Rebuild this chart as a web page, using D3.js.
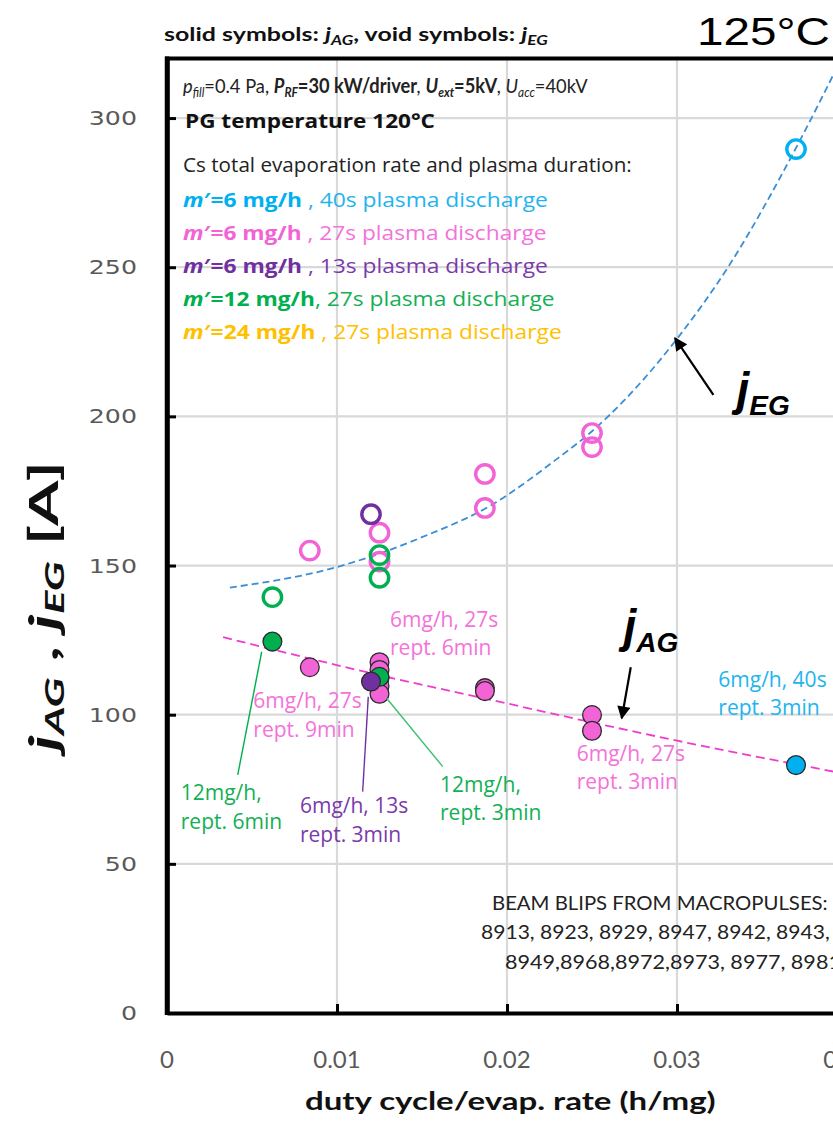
<!DOCTYPE html>
<html><head><meta charset="utf-8">
<script src="https://cdn.jsdelivr.net/npm/d3@7"></script>
<style>body{margin:0;background:#fff}svg{display:block}</style>
</head><body>
<svg id="c" width="833" height="1122"></svg>
<script>
// ---------- data ----------
const xTicks = [0, 0.01, 0.02, 0.03, 0.04];
const xTickLabels = ["0", "0.01", "0.02", "0.03", "0.04"];
const yTicks = [0, 50, 100, 150, 200, 250, 300];
const yTickLabels = ["0", "50", "100", "150", "200", "250", "300"];

// m'=6 mg/h, 27 s (pink)
const pinkEgX = [0.0084, 0.0125, 0.0125, 0.0187, 0.0187, 0.025, 0.025];
const pinkEg  = [155.0, 161.0, 151.3, 180.7, 169.3, 194.4, 189.7];
const pinkAgX = [0.0084, 0.0125, 0.0125, 0.0125, 0.0125, 0.0125, 0.0187, 0.0187, 0.025, 0.025];
const pinkAg  = [115.9, 117.6, 115.0, 112.3, 109.6, 107.0, 108.9, 107.9, 99.9, 94.6];
// m'=12 mg/h, 27 s (green)
const greenEgX = [0.0062, 0.0125, 0.0125];
const greenEg  = [139.4, 153.5, 145.9];
const greenAgX = [0.0062, 0.0125];
const greenAg  = [124.5, 112.7];
// m'=6 mg/h, 13 s (purple)
const purpleEgX = [0.012];
const purpleEg  = [167.2];
const purpleAgX = [0.012];
const purpleAg  = [111.1];
// m'=6 mg/h, 40 s (cyan)
const cyanEgX = [0.037];
const cyanEg  = [289.6];
const cyanAgX = [0.037];
const cyanAg  = [83.1];

// trend lines
const egTrendX = [0.0037, 0.0100, 0.0125, 0.0150, 0.0190, 0.0230, 0.0250, 0.0270, 0.0300, 0.0330, 0.0370, 0.0395];
const egTrendY = [142.6, 149.5, 154.0, 159.5, 170.0, 186.0, 195.0, 206.0, 226.0, 250.0, 290.0, 318.0];
const agTrendX = [0.0033, 0.0133, 0.0192, 0.0231, 0.0300, 0.0395];
const agTrendY = [126.0, 112.2, 104.8, 99.8, 91.3, 80.6];

const legendBold = ["=6 mg/h", "=6 mg/h", "=6 mg/h", "=12 mg/h", "=24 mg/h"];
const legendRest = [" , 40s plasma discharge", " , 27s plasma discharge", " , 13s plasma discharge", ", 27s plasma discharge", " , 27s plasma discharge"];
const beamLines = ["BEAM BLIPS FROM MACROPULSES:", "8913, 8923, 8929, 8947, 8942, 8943,", "8949,8968,8972,8973, 8977, 8981"];

// ---------- style ----------
const C = {pink:"#f263d6", green:"#00b050", purple:"#7030a0", cyan:"#00b0f0", gold:"#ffc000"};
const T = {pink:"#f472da", green:"#13b055", purple:"#7b3aab", cyan:"#22b4ee", gold:"#ffc000"};
const legendColors = [C.cyan, C.pink, C.purple, C.green, C.gold];
const legendTextColors = [T.cyan, T.pink, T.purple, T.green, T.gold];
const CAL = "Lato, 'Open Sans', sans-serif";
const SEG = "'Open Sans', 'Noto Sans', sans-serif";
const ARIAL = "'Liberation Sans', Arial, sans-serif";

const svg = d3.select("#c");
const x = d3.scaleLinear().domain([0, 0.04]).range([167, 847]);
const y = d3.scaleLinear().domain([0, 320]).range([1013, 58.4]);

function fit(sel, target){
  const w = sel.node().getComputedTextLength();
  return w > 0 ? target / w : 1;
}
function place(sel, px, py, target){
  sel.attr("x", 0).attr("y", 0);
  const k = target ? fit(sel, target) : 1;
  sel.attr("transform", `translate(${px},${py}) scale(${k},1)`);
  return sel;
}

// ---------- grid ----------
const grid = svg.append("g");
grid.selectAll("line.v").data(xTicks.filter(d => d > 0)).join("line")
  .attr("x1", d => x(d)).attr("x2", d => x(d)).attr("y1", y(320)).attr("y2", y(0))
  .attr("stroke", "#d9d9d9").attr("stroke-width", 2.2);
grid.selectAll("line.h").data(yTicks.filter(d => d > 0)).join("line")
  .attr("x1", x(0)).attr("x2", x(0.042)).attr("y1", d => y(d)).attr("y2", d => y(d))
  .attr("stroke", "#d9d9d9").attr("stroke-width", 2.2);

// ---------- axes ----------
const ax = svg.append("g").attr("transform", `translate(0,${y(0)})`)
  .call(d3.axisBottom(x).tickValues(xTicks).tickSize(-9).tickSizeOuter(0).tickFormat(""));
ax.select(".domain").attr("stroke", "#000").attr("stroke-width", 4);
ax.selectAll(".tick line").attr("stroke", "#000").attr("stroke-width", 3);
const ay = svg.append("g").attr("transform", `translate(${x(0)},0)`)
  .call(d3.axisLeft(y).tickValues(yTicks).tickSize(-9).tickSizeOuter(0).tickFormat(""));
ay.select(".domain").attr("stroke", "#000").attr("stroke-width", 4.5);
ay.selectAll(".tick line").attr("stroke", "#000").attr("stroke-width", 3);
svg.append("line").attr("x1", x(0) - 2).attr("x2", x(0.045)).attr("y1", y(320)).attr("y2", y(320))
  .attr("stroke", "#000").attr("stroke-width", 4);
svg.append("line").attr("x1", x(0)).attr("x2", x(0)).attr("y1", y(320) - 2).attr("y2", y(0) + 2)
  .attr("stroke", "#000").attr("stroke-width", 4.5);

// tick labels
yTicks.forEach((t, i) => {
  const s = svg.append("text").text(yTickLabels[i]).attr("font-family", "'DejaVu Sans', Verdana, sans-serif")
    .attr("font-size", 19).attr("fill", "#595959").attr("text-anchor", "end");
  s.attr("x", 0).attr("y", 0).attr("transform", `translate(137,${y(t) + 7}) scale(1.33,1)`);
});
xTicks.forEach((t, i) => {
  svg.append("text").text(xTickLabels[i]).attr("x", x(t)).attr("y", 1068)
    .attr("font-family", CAL).attr("font-size", 24).attr("fill", "#595959").attr("text-anchor", "middle");
});

// axis titles
const xt = svg.append("text").text("duty cycle/evap. rate (h/mg)").attr("font-family", CAL)
  .attr("font-weight", "bold").attr("font-size", 25).attr("fill", "#111");
place(xt, 305, 1110, 411);

const yt = svg.append("text").attr("font-family", CAL).attr("font-weight", "bold").attr("font-size", 40).attr("fill", "#111");
yt.append("tspan").text("j").attr("font-style", "italic");
yt.append("tspan").text("AG").attr("font-style", "italic").attr("font-size", 27).attr("dy", 6);
yt.append("tspan").text(" , ").attr("dy", -6);
yt.append("tspan").text("j").attr("font-style", "italic");
yt.append("tspan").text("EG").attr("font-style", "italic").attr("font-size", 27).attr("dy", 6);
yt.append("tspan").text(" [A]").attr("dy", -6);
{
  yt.attr("x", 0).attr("y", 0);
  const k = fit(yt, 290);
  yt.attr("transform", `translate(58,751) rotate(-90) scale(${k},1)`);
}

// ---------- trend lines ----------
svg.append("clipPath").attr("id", "pc").append("rect")
  .attr("x", x(0)).attr("y", y(320)).attr("width", x(0.045) - x(0)).attr("height", y(0) - y(320));
const lineGen = d3.line().x(d => x(d[0])).y(d => y(d[1])).curve(d3.curveMonotoneX);
svg.append("path").attr("clip-path", "url(#pc)")
  .datum(egTrendX.map((v, i) => [v, egTrendY[i]])).attr("d", lineGen)
  .attr("fill", "none").attr("stroke", "#3a8ed6").attr("stroke-width", 1.8).attr("stroke-dasharray", "7,4");
svg.append("path").attr("clip-path", "url(#pc)")
  .datum(agTrendX.map((v, i) => [v, agTrendY[i]])).attr("d", lineGen)
  .attr("fill", "none").attr("stroke", "#f03ccc").attr("stroke-width", 1.8).attr("stroke-dasharray", "9,5");

// ---------- markers ----------
function open(xs, ys, col){
  svg.append("g").selectAll("circle").data(xs.map((v, i) => [v, ys[i]])).join("circle")
    .attr("cx", d => x(d[0])).attr("cy", d => y(d[1])).attr("r", 9.2)
    .attr("fill", "none").attr("stroke", col).attr("stroke-width", 3.4);
}
function solid(xs, ys, col){
  svg.append("g").selectAll("circle").data(xs.map((v, i) => [v, ys[i]])).join("circle")
    .attr("cx", d => x(d[0])).attr("cy", d => y(d[1])).attr("r", 9.4)
    .attr("fill", col).attr("stroke", "#2b2b2b").attr("stroke-width", 1.3);
}
open(pinkEgX, pinkEg, C.pink);
open(purpleEgX, purpleEg, C.purple);
open(greenEgX, greenEg, C.green);
open(cyanEgX, cyanEg, C.cyan);
solid(pinkAgX, pinkAg, C.pink);
solid(greenAgX, greenAg, C.green);
solid(purpleAgX, purpleAg, C.purple);
solid(cyanAgX, cyanAg, C.cyan);

// ---------- header ----------
const h1 = svg.append("text").attr("font-family", CAL).attr("font-weight", "bold").attr("font-size", 19).attr("fill", "#111");
h1.append("tspan").text("solid symbols: ");
h1.append("tspan").text("j").attr("font-style", "italic");
h1.append("tspan").text("AG").attr("font-style", "italic").attr("font-size", 13).attr("dy", 4);
h1.append("tspan").text(", void symbols: ").attr("dy", -4);
h1.append("tspan").text("j").attr("font-style", "italic");
h1.append("tspan").text("EG").attr("font-style", "italic").attr("font-size", 13).attr("dy", 4);
place(h1, 164, 41, 384);

const h2 = svg.append("text").text("125°C").attr("font-family", ARIAL).attr("font-size", 38).attr("fill", "#000");
place(h2, 697, 45, 133);

// parameter line
const p1 = svg.append("text").attr("font-family", CAL).attr("font-size", 20).attr("fill", "#222");
p1.append("tspan").text("p").attr("font-style", "italic");
p1.append("tspan").text("fill").attr("font-style", "italic").attr("font-size", 13).attr("dy", 4);
p1.append("tspan").text("=0.4 Pa, ").attr("dy", -4);
p1.append("tspan").text("P").attr("font-style", "italic").attr("font-weight", "bold");
p1.append("tspan").text("RF").attr("font-style", "italic").attr("font-weight", "bold").attr("font-size", 13).attr("dy", 4);
p1.append("tspan").text("=30 kW/driver").attr("font-weight", "bold").attr("dy", -4);
p1.append("tspan").text(", ").attr("font-style", "italic");
p1.append("tspan").text("U").attr("font-style", "italic").attr("font-weight", "bold");
p1.append("tspan").text("ext").attr("font-style", "italic").attr("font-weight", "bold").attr("font-size", 13).attr("dy", 4);
p1.append("tspan").text("=5kV").attr("font-weight", "bold").attr("dy", -4);
p1.append("tspan").text(", ").attr("font-style", "italic");
p1.append("tspan").text("U").attr("font-style", "italic");
p1.append("tspan").text("acc").attr("font-style", "italic").attr("font-size", 13).attr("dy", 4);
p1.append("tspan").text("=40kV").attr("dy", -4);
place(p1, 183, 93, 405);

const p2 = svg.append("text").text("PG temperature 120°C").attr("font-family", SEG)
  .attr("font-weight", "bold").attr("font-size", 19).attr("fill", "#111");
place(p2, 185, 128, 250);
const p3 = svg.append("text").text("Cs total evaporation rate and plasma duration:").attr("font-family", SEG)
  .attr("font-size", 20).attr("fill", "#222");
place(p3, 183, 172, 449);

const legBase = [206.7, 240, 273.3, 305.5, 338.5];
const legW = [365, 364, 365, 372, 379];
legendBold.forEach((b, i) => {
  const t = svg.append("text").attr("font-family", SEG).attr("font-size", 20);
  t.append("tspan").text("m").attr("font-style", "italic").attr("font-weight", "bold").attr("fill", legendColors[i]);
  t.append("tspan").text("′" + b).attr("font-weight", "bold").attr("fill", legendColors[i]);
  t.append("tspan").text(legendRest[i]).attr("fill", legendTextColors[i]);
  place(t, 183, legBase[i], legW[i]);
});

// beam blips
const beamX = [492, 481, 505];
const beamY = [910, 939, 969];
const beamW = [336, 349, 336];
beamLines.forEach((s, i) => {
  const t = svg.append("text").text(s).attr("font-family", CAL).attr("font-size", 19).attr("fill", "#222");
  place(t, beamX[i], beamY[i], beamW[i]);
});

// ---------- annotations ----------
const notes = [
  {lines: ["6mg/h, 27s", "rept. 6min"], x: 0.01312, y: 129.5, c: T.pink},
  {lines: ["6mg/h, 27s", "rept. 9min"], x: 0.00508, y: 102.1, c: T.pink},
  {lines: ["12mg/h,", "rept. 6min"], x: 0.00081, y: 71.4, c: T.green},
  {lines: ["6mg/h, 13s", "rept. 3min"], x: 0.00782, y: 66.9, c: T.purple},
  {lines: ["12mg/h,", "rept. 3min"], x: 0.01606, y: 74.2, c: T.green},
  {lines: ["6mg/h, 27s", "rept. 3min"], x: 0.0241, y: 84.5, c: T.pink},
  {lines: ["6mg/h, 40s", "rept. 3min"], x: 0.03243, y: 109.4, c: T.cyan}
];
notes.forEach(n => {
  n.lines.forEach((s, j) => {
    svg.append("text").text(s).attr("x", x(n.x)).attr("y", y(n.y) + j * 28.5)
      .attr("font-family", SEG).attr("font-size", 21).attr("fill", n.c);
  });
});

const leaders = [
  {x1: 0.00557, y1: 121.1, x2: 0.00416, y2: 79.8, c: C.green},
  {x1: 0.01184, y1: 106.0, x2: 0.01151, y2: 74.2, c: C.purple},
  {x1: 0.01292, y1: 105.5, x2: 0.01622, y2: 82.6, c: "#3cc070"}
];
svg.append("g").selectAll("line").data(leaders).join("line")
  .attr("x1", d => x(d.x1)).attr("y1", d => y(d.y1)).attr("x2", d => x(d.x2)).attr("y2", d => y(d.y2))
  .attr("stroke", d => d.c).attr("stroke-width", 1.4);

// big labels with arrows
svg.append("defs").append("marker").attr("id", "ah").attr("viewBox", "0 0 10 10")
  .attr("refX", 9).attr("refY", 5).attr("markerWidth", 7).attr("markerHeight", 6)
  .attr("markerUnits", "strokeWidth").attr("orient", "auto")
  .append("path").attr("d", "M0,0 L10,5 L0,10 z").attr("fill", "#000");
const arrows = [
  {x1: 0.03214, y1: 207.2, x2: 0.02988, y2: 226.2},
  {x1: 0.02728, y1: 115.9, x2: 0.02675, y2: 98.8}
];
svg.append("g").selectAll("line").data(arrows).join("line")
  .attr("x1", d => x(d.x1)).attr("y1", d => y(d.y1)).attr("x2", d => x(d.x2)).attr("y2", d => y(d.y2))
  .attr("stroke", "#000").attr("stroke-width", 2.2).attr("marker-end", "url(#ah)");

const bigLabels = [{sub: "AG", x: 0.02685, y: 124.2}, {sub: "EG", x: 0.0335, y: 203.8}];
bigLabels.forEach(b => {
  const t = svg.append("text").attr("x", x(b.x)).attr("y", y(b.y))
    .attr("font-family", ARIAL).attr("font-weight", "bold").attr("font-style", "italic").attr("fill", "#000");
  t.append("tspan").text("j").attr("font-size", 46);
  t.append("tspan").text(b.sub).attr("font-size", 28).attr("dy", 10);
});
</script>
</body></html>
